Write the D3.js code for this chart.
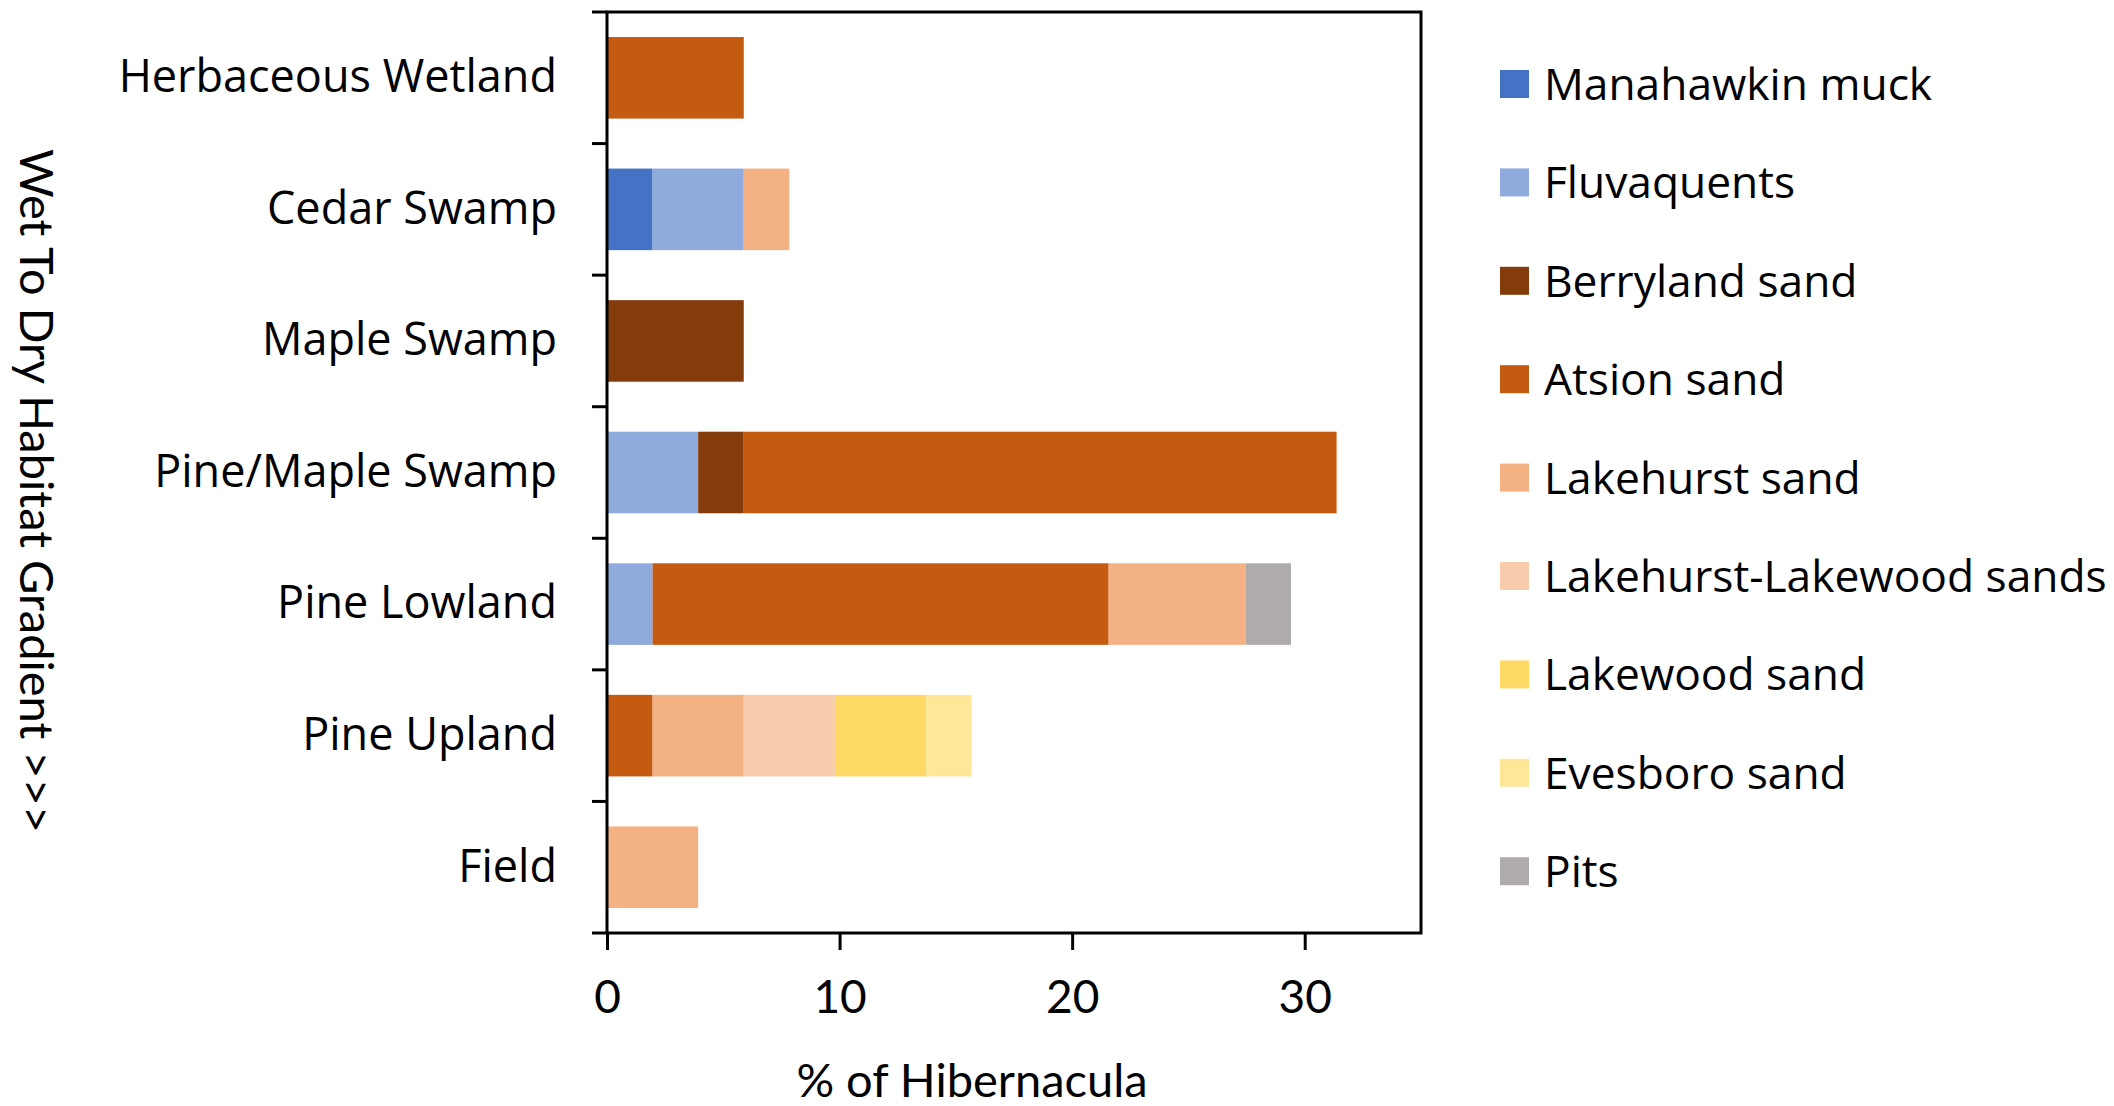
<!DOCTYPE html>
<html>
<head>
<meta charset="utf-8">
<script src="https://cdn.jsdelivr.net/npm/d3@7"></script>
<style>
  body { margin: 0; background: #fff; }
  svg { display: block; }
</style>
</head>
<body>
<svg id="chart"></svg>
<script>
var width = 2114;
var height = 1106;

// habitats, wet (top) to dry (bottom)
var categories = ["Herbaceous Wetland", "Cedar Swamp", "Maple Swamp", "Pine/Maple Swamp", "Pine Lowland", "Pine Upland", "Field"];
var soils = ["Manahawkin muck", "Fluvaquents", "Berryland sand", "Atsion sand", "Lakehurst sand", "Lakehurst-Lakewood sands", "Lakewood sand", "Evesboro sand", "Pits"];
var soilColors = ["#4472C4", "#8FAADC", "#843C0C", "#C55A11", "#F4B183", "#F8CBAD", "#FFD966", "#FFE699", "#AFABAB"];

// % of hibernacula per habitat, one array per soil
var manahawkin        = [0,    1.96, 0,    0,     0,     0,    0];
var fluvaquents       = [0,    3.92, 0,    3.92,  1.96,  0,    0];
var berryland         = [0,    0,    5.88, 1.96,  0,     0,    0];
var atsion            = [5.88, 0,    0,    25.49, 19.61, 1.96, 0];
var lakehurst         = [0,    1.96, 0,    0,     5.88,  3.92, 3.92];
var lakehurstLakewood = [0,    0,    0,    0,     0,     3.92, 0];
var lakewood          = [0,    0,    0,    0,     0,     3.92, 0];
var evesboro          = [0,    0,    0,    0,     0,     1.96, 0];
var pits              = [0,    0,    0,    0,     1.96,  0,    0];

var xTicks = [0, 10, 20, 30];

var series = [manahawkin, fluvaquents, berryland, atsion, lakehurst, lakehurstLakewood, lakewood, evesboro, pits];

var table = categories.map(function(c, i) {
  var row = { habitat: c };
  soils.forEach(function(s, j) { row[s] = series[j][i]; });
  return row;
});

var stacked = d3.stack().keys(soils)(table);

var plotL = 607, plotR = 1421, plotT = 12, plotB = 933;

var x = d3.scaleLinear().domain([0, 35]).range([plotL, plotR]);
var y = d3.scaleBand().domain(categories).range([plotT, plotB]).paddingInner(0.38).paddingOuter(0.19);
var color = d3.scaleOrdinal().domain(soils).range(soilColors);

var svg = d3.select("#chart")
  .attr("width", width)
  .attr("height", height);

// bars
svg.append("g")
  .selectAll("g")
  .data(stacked)
  .enter()
  .append("g")
    .attr("fill", function(d) { return color(d.key); })
  .selectAll("rect")
  .data(function(d) { return d; })
  .enter()
  .append("rect")
    .attr("x", function(d) { return x(d[0]); })
    .attr("y", function(d) { return y(d.data.habitat); })
    .attr("width", function(d) { return x(d[1]) - x(d[0]); })
    .attr("height", y.bandwidth());

// frame
svg.append("rect")
  .attr("x", plotL).attr("y", plotT)
  .attr("width", plotR - plotL).attr("height", plotB - plotT)
  .style("fill", "none").style("stroke", "#000").style("stroke-width", 3);

// ticks between categories
var step = (plotB - plotT) / categories.length;
svg.append("g")
  .selectAll("line")
  .data(d3.range(categories.length + 1))
  .enter()
  .append("line")
    .attr("x1", plotL - 15).attr("x2", plotL)
    .attr("y1", function(i) { return plotT + i * step; })
    .attr("y2", function(i) { return plotT + i * step; })
    .style("stroke", "#000").style("stroke-width", 3);

// category labels
var yAxis = svg.append("g")
  .attr("transform", "translate(" + plotL + ",0)")
  .call(d3.axisLeft(y).tickSize(0).tickPadding(50));
yAxis.select(".domain").remove();
yAxis.selectAll("text")
  .style("font-family", "'Open Sans', sans-serif")
  .style("font-size", "45px")
  .style("fill", "#000");

// bottom axis
var xAxis = svg.append("g")
  .attr("transform", "translate(0," + plotB + ")")
  .call(d3.axisBottom(x).tickValues(xTicks).tickSize(17).tickPadding(30));
xAxis.select(".domain").remove();
xAxis.selectAll("line").style("stroke", "#000").style("stroke-width", 3);
xAxis.selectAll("text")
  .style("font-family", "Lato, sans-serif")
  .style("font-size", "46px")
  .style("fill", "#000");

svg.append("text")
  .attr("x", 972)
  .attr("y", 1097)
  .attr("text-anchor", "middle")
  .style("font-family", "Lato, sans-serif")
  .style("font-size", "47px")
  .text("% of Hibernacula");

svg.append("text")
  .attr("transform", "translate(20,491) rotate(90)")
  .attr("text-anchor", "middle")
  .style("font-family", "Lato, sans-serif")
  .style("font-size", "47px")
  .text("Wet To Dry Habitat Gradient >>>");

// legend
var legend = svg.append("g")
  .selectAll("g")
  .data(soils)
  .enter()
  .append("g")
    .attr("transform", function(d, i) { return "translate(1500," + (84 + i * 98.4) + ")"; });

legend.append("rect")
  .attr("x", 0).attr("y", -14)
  .attr("width", 29).attr("height", 28)
  .style("fill", function(d) { return color(d); });

legend.append("text")
  .attr("x", 44)
  .attr("dy", "0.36em")
  .style("font-family", "'Open Sans', sans-serif")
  .style("font-size", "44.3px")
  .text(function(d) { return d; });
</script>
</body>
</html>
